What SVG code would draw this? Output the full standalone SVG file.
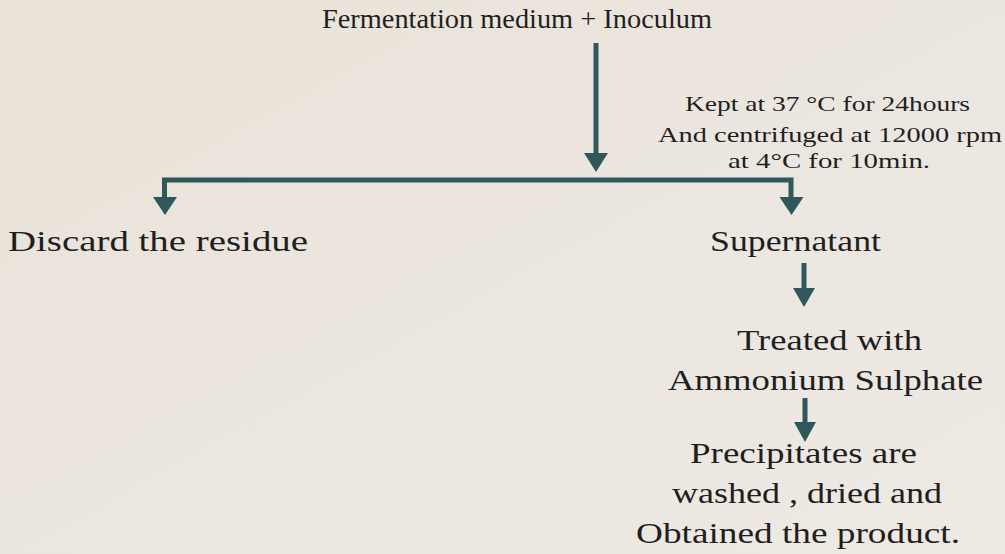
<svg xmlns="http://www.w3.org/2000/svg" width="1005" height="554" viewBox="0 0 1005 554">
<defs>
<linearGradient id="bg" x1="0" y1="0" x2="1" y2="1">
<stop offset="0" stop-color="#e8e2d7"/>
<stop offset="0.5" stop-color="#ece6e0"/>
<stop offset="1" stop-color="#eee9e2"/>
</linearGradient>
<style>
text{font-family:"Liberation Serif","Times New Roman",serif;fill:#1f1f1f}
.big{font-size:29px}
.title{font-size:28px}
.small{font-size:21px}
.ln{stroke:#2e5859;fill:none;stroke-width:5}
.hd{fill:#2e5859}
</style>
</defs>
<rect width="1005" height="554" fill="url(#bg)"/>
<g id="connectors">
<line class="ln" x1="596" y1="43" x2="596" y2="156"/>
<polygon class="hd" points="584,153 608,153 596,172"/>
<polyline class="ln" points="164.5,203 164.5,180 791,180 791,203"/>
<polygon class="hd" points="153,197 177,197 165,215"/>
<polygon class="hd" points="779.5,197 803.5,197 791.5,215"/>
<line class="ln" x1="804" y1="263" x2="804" y2="291"/>
<polygon class="hd" points="793,288 815,288 804,307"/>
<line class="ln" x1="805" y1="398" x2="805" y2="425"/>
<polygon class="hd" points="794,422 816,422 805,442"/>
</g>
<g id="n-start">
<text class="title" x="322" y="28" textLength="390" lengthAdjust="spacingAndGlyphs">Fermentation medium + Inoculum</text>
</g>
<g id="n-condition">
<text class="small" x="685" y="111" textLength="285" lengthAdjust="spacingAndGlyphs">Kept at 37 °C for 24hours</text>
<text class="small" x="658" y="142" textLength="344" lengthAdjust="spacingAndGlyphs">And centrifuged at 12000 rpm</text>
<text class="small" x="728" y="168" textLength="202" lengthAdjust="spacingAndGlyphs">at 4°C for 10min.</text>
</g>
<g id="n-discard">
<text class="big" x="8" y="251" textLength="300" lengthAdjust="spacingAndGlyphs">Discard the residue</text>
</g>
<g id="n-supernatant">
<text class="big" x="710" y="251" textLength="171" lengthAdjust="spacingAndGlyphs">Supernatant</text>
</g>
<g id="n-treated">
<text class="big" x="737" y="350" textLength="185" lengthAdjust="spacingAndGlyphs">Treated with</text>
<text class="big" x="668" y="390" textLength="315" lengthAdjust="spacingAndGlyphs">Ammonium Sulphate</text>
</g>
<g id="n-product">
<text class="big" x="690" y="463" textLength="227" lengthAdjust="spacingAndGlyphs">Precipitates are</text>
<text class="big" x="672" y="503" textLength="270" lengthAdjust="spacingAndGlyphs">washed , dried and</text>
<text class="big" x="636" y="543" textLength="324" lengthAdjust="spacingAndGlyphs">Obtained the product.</text>
</g>
</svg>
